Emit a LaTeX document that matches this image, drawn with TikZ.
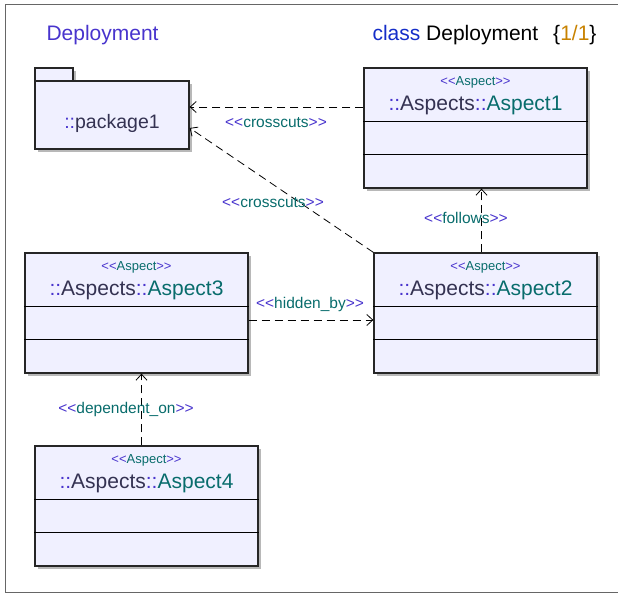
\documentclass[tikz,border=0pt]{standalone}
\usepackage{fontspec}
\setmainfont{Liberation Sans}
\usetikzlibrary{arrows.meta,calc,shadows}

\definecolor{umlpurple}{RGB}{72,52,205}
\definecolor{umlteal}{RGB}{8,108,108}
\definecolor{umldark}{RGB}{52,50,82}
\definecolor{umlfill}{RGB}{240,240,255}
\definecolor{umlblue}{RGB}{20,45,200}
\definecolor{umlorange}{RGB}{200,130,0}

% the kern keeps << and >> from turning into guillemets
\newcommand{\stereotxt}[1]{\textcolor{umlpurple}{<\kern0pt<}\textcolor{umlteal}{#1}\textcolor{umlpurple}{>\kern0pt>}}
\newcommand{\aspname}[1]{\textcolor{umlpurple}{::}\textcolor{umldark}{Aspects}\textcolor{umlpurple}{::}\textcolor{umlteal}{#1}}

\tikzset{
  umlbox/.style={draw=black!85,line width=1.3pt,fill=umlfill,inner sep=0pt,
    drop shadow={shadow xshift=3pt,shadow yshift=-3pt,fill=black!28,opacity=1}},
  aspect/.style={umlbox,minimum width=223pt,minimum height=120pt},
  dep/.style={dash pattern=on 8pt off 5pt,line width=0.8pt,
    -{Straight Barb[length=6pt,width=11pt,line width=0.8pt]}},
  deplabel/.style={font=\fontsize{15.5}{18}\selectfont},
  stereo/.style={font=\fontsize{13}{15}\selectfont},
  clsname/.style={font=\fontsize{21}{24}\selectfont},
}

% class box with two empty compartments
\newcommand{\aspectbox}[3]{%
  \node[aspect] (#1) at (#2) {};
  \draw[line width=1pt] ($(#1.north west)+(0,54)$) -- ($(#1.north east)+(0,54)$);
  \draw[line width=1pt] ($(#1.north west)+(0,87)$) -- ($(#1.north east)+(0,87)$);
  \node[stereo] (#1-st) at ($(#1.north)+(0,15)$) {\stereotxt{Aspect}};
  \node[clsname] (#1-nm) at ($(#1.north)+(0,38)$) {\aspname{#3}};
}

\begin{document}
\begin{tikzpicture}[x=1pt,y=-1pt]
   \useasboundingbox (0,0) rectangle (618,594);
   \draw[black!60,line width=1pt] (5,5) rectangle (630,592);

   % headings
   \node[clsname,anchor=west,text=umlpurple] (title) at (43,35) {Deployment};
   \node[clsname,anchor=west] (header) at (369,35)
     {\textcolor{umlblue}{class} Deployment\hspace{15pt}\{\textcolor{umlorange}{1/1}\}};

   % package
   \draw[umlbox] (35,68) rectangle (73,81);
   \node[umlbox,minimum width=154pt,minimum height=68pt] (pkg) at (112,115) {};
   \node[font=\fontsize{19.5}{22}\selectfont] (pkg-nm) at (112,123)
     {\textcolor{umlpurple}{::}\textcolor{umldark}{package1}};

   % aspects
   \aspectbox{asp1}{475.5,128}{Aspect1}
   \aspectbox{asp2}{485.5,313}{Aspect2}
   \aspectbox{asp3}{136.5,313}{Aspect3}
   \aspectbox{asp4}{146.5,506}{Aspect4}

   % dependencies
   \draw[dep] ($(asp1.west)+(0,-21)$) coordinate (c1) -- (pkg.east |- c1);
   \draw[dep] (asp2.north west) -- ($(pkg.east)+(0,13)$);
   \draw[dep] ($(asp2.north)+(-4,0)$) coordinate (c2) -- (asp1.south -| c2);
   \draw[dep] ($(asp3.east)+(0,7)$) coordinate (c3) -- (asp2.west |- c3);
   \draw[dep] ($(asp4.north)+(-5,0)$) coordinate (c4) -- (asp3.south -| c4);

   \node[deplabel] (l1) at (276,123) {\stereotxt{crosscuts}};
   \node[deplabel] (l2) at (273,203) {\stereotxt{crosscuts}};
   \node[deplabel] (l3) at (466,218) {\stereotxt{follows}};
   \node[deplabel] (l4) at (310,304) {\stereotxt{hidden\_by}};
   \node[deplabel] (l5) at (126,409) {\stereotxt{dependent\_on}};
\end{tikzpicture}
\end{document}
